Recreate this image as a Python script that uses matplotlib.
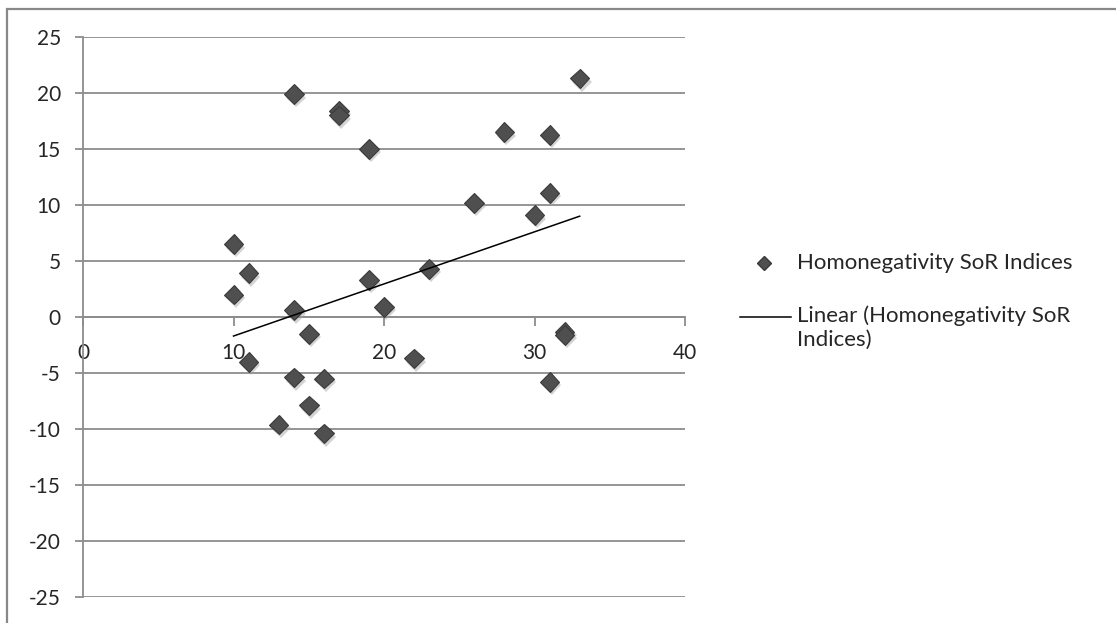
import numpy as np
import matplotlib
matplotlib.use("Agg")
import matplotlib.pyplot as plt
from matplotlib.lines import Line2D
from matplotlib.patches import Rectangle
import matplotlib.patheffects as pe

plt.rcParams['font.family'] = ['Lato', 'DejaVu Sans']

# Data
x_vals = [10, 10, 11, 11, 13, 14, 14, 14, 15, 15, 16, 16, 17, 17, 19, 19,
          20, 22, 23, 26, 28, 30, 31, 31, 31, 32, 32, 33]
y_vals = [6.5, 2.0, 3.9, -4.0, -9.6, 19.9, 0.6, -5.4, -1.5, -7.9, -5.5, -10.4,
          18.4, 18.0, 15.0, 3.3, 0.9, -3.7, 4.3, 10.2, 16.5, 9.1, 11.1, 16.25,
          -5.8, -1.3, -1.6, 21.3]
# linear trend line endpoints
trend_x = [10, 33]
trend_y = [-1.7, 9.0]
x_ticks = [0, 10, 20, 30, 40]
y_ticks = [-25, -20, -15, -10, -5, 0, 5, 10, 15, 20, 25]
series_label = "Homonegativity SoR Indices"
trend_label = "Linear (Homonegativity SoR\nIndices)"

W, H = 1116, 623
fig = plt.figure(figsize=(W / 100, H / 100), dpi=100)
fig.patch.set_facecolor('white')

def fx(px):
    return px / W

def fy(py):
    return 1 - py / H

ax = fig.add_axes([fx(83), fy(597), fx(685) - fx(83), fy(37) - fy(597)])
ax.set_xlim(0, 40)
ax.set_ylim(-25, 25)

grid_c = '#8c8c8c'
text_c = '#262626'
ax.set_yticks(y_ticks)
ax.set_xticks(x_ticks)
ax.yaxis.grid(True, color=grid_c, linewidth=1.3)
ax.xaxis.grid(False)
ax.set_axisbelow(True)

for s in ['top', 'right']:
    ax.spines[s].set_visible(False)
ax.spines['left'].set_color(grid_c)
ax.spines['left'].set_linewidth(1.3)
ax.spines['bottom'].set_position(('data', 0))
ax.spines['bottom'].set_color(grid_c)
ax.spines['bottom'].set_linewidth(1.3)

ax.tick_params(axis='y', direction='out', length=6, width=1.3, color=grid_c,
               labelsize=15, labelcolor=text_c, pad=10)
ax.tick_params(axis='x', direction='out', length=6.5, width=1.3, color=grid_c,
               labelsize=15, labelcolor=text_c, pad=12)
ax.set_yticklabels([str(v) for v in y_ticks])
ax.set_xticklabels([str(v) for v in x_ticks])

# scatter
marker_fc = '#4f4f4f'
marker_ec = '#3a3a3a'
shadow = [pe.SimplePatchShadow(offset=(1.5, -2.5), shadow_rgbFace='#a0a0a0', alpha=0.45), pe.Normal()]
ax.plot(x_vals, y_vals, linestyle='none', marker='D', markersize=10,
        markerfacecolor=marker_fc, markeredgecolor=marker_ec, markeredgewidth=0.8,
        path_effects=shadow, zorder=3, clip_on=False)

# linear trend
ax.plot(trend_x, trend_y, color='black', linewidth=1.1, zorder=4)

# legend (manual)
fig.add_artist(Line2D([fx(764)], [fy(263)], marker='D', markersize=7.5,
                      markerfacecolor=marker_fc, markeredgecolor=marker_ec,
                      transform=fig.transFigure))
fig.text(fx(797), fy(263), series_label, fontsize=16, color=text_c,
         ha='left', va='center')
fig.add_artist(Line2D([fx(740), fx(791)], [fy(317), fy(317)], color='black',
                      linewidth=1.1, transform=fig.transFigure))
for i, line in enumerate(trend_label.split('\n')):
    fig.text(fx(797), fy(316 + 24 * i), line, fontsize=16, color=text_c,
             ha='left', va='center')

# outer frame
fig.add_artist(Rectangle((fx(7), fy(H + 20)), fx(W + 20) - fx(7), fy(9) - fy(H + 20),
                         transform=fig.transFigure, fill=False,
                         edgecolor='#888888', linewidth=1.6))

fig.savefig('out.png', dpi=100)
